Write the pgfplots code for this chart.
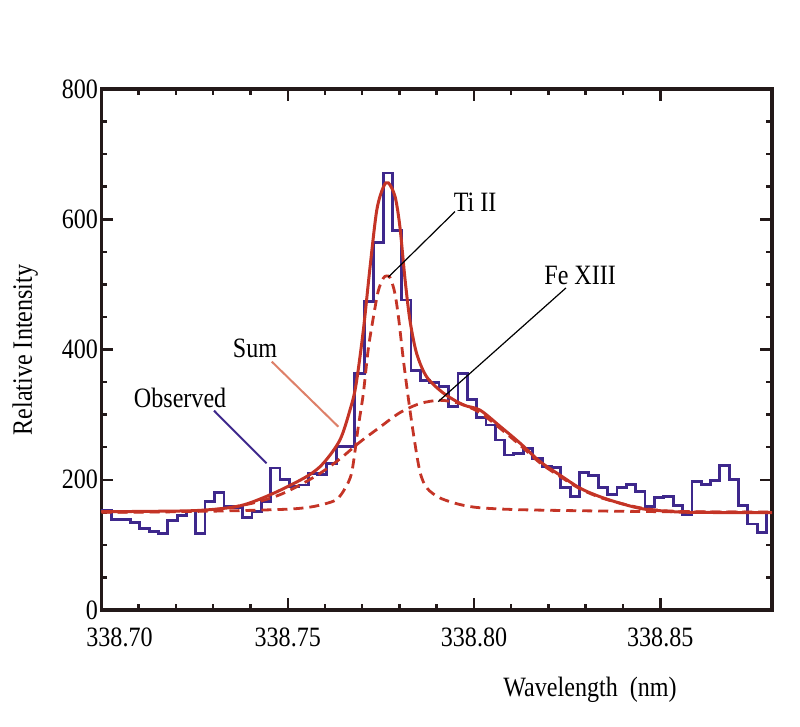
\documentclass[border=0pt]{standalone}
\usepackage{fontspec}
\setmainfont{Liberation Serif}[FakeStretch=0.86]
\usepackage{pgfplots}
\pgfplotsset{compat=1.18}
\definecolor{axcol}{RGB}{35,25,25}
\definecolor{obs}{RGB}{62,40,140}
\definecolor{fit}{RGB}{196,52,38}
\definecolor{sumline}{RGB}{222,128,105}
\newcommand{\bigf}{\fontsize{28}{30}\selectfont}
\begin{document}
\begin{tikzpicture}
\begin{axis}[
  at={(0pt,0pt)}, anchor=south west,
  scale only axis, width=670.5pt, height=521pt,
  xmin=338.70, xmax=338.88, ymin=0, ymax=800,
  xtick={338.70,338.75,338.80,338.85},
  xticklabels={{\hspace*{36pt}\textrm{338.70}},\textrm{338.75},\textrm{338.80},\textrm{338.85}},
  ytick={0,200,400,600,800},
  yticklabels={\textrm{0},\textrm{200},\textrm{400},\textrm{600},\textrm{800}},
  minor x tick num=4, minor y tick num=3,
  tick align=inside,
  major tick length=12pt, minor tick length=6pt,
  every tick/.style={line width=2.5pt, color=axcol},
  axis line style={line width=3.5pt, color=axcol},
  tick label style={font=\bigf},
  /pgf/number format/assume math mode=true,
  xticklabel style={inner ysep=0pt, yshift=-18pt},
  yticklabel style={inner ysep=0pt},
  ylabel={Relative Intensity},
  ylabel style={at={(axis description cs:-0.114,0.499)}, anchor=center, font=\bigf},
  xlabel={Wavelength\ \ (nm)},
  xlabel style={at={(axis description cs:0.7286,0)}, yshift=-80pt, anchor=center, font=\bigf},
  clip=false,
]
% Observed histogram
\addplot[const plot, color=obs, line width=2.8pt] coordinates {
(338.7000,152.5)
(338.7027,139) (338.7052,139) (338.7077,134) (338.7102,125) (338.7128,121)
(338.7153,117) (338.7178,138) (338.7203,145) (338.7228,152) (338.7253,118)
(338.7278,166) (338.7304,180) (338.7329,159) (338.7354,157) (338.7379,142)
(338.7404,151) (338.7429,167) (338.7454,218) (338.7479,201) (338.7505,190)
(338.7530,192) (338.7555,210) (338.7580,208) (338.7605,225) (338.7630,251)
(338.7655,251) (338.7680,363) (338.7705,474) (338.7731,564) (338.7756,671)
(338.7781,583) (338.7806,476) (338.7831,368) (338.7856,353) (338.7881,349)
(338.7906,343) (338.7932,312) (338.7957,363) (338.7982,323) (338.8007,296)
(338.8032,284) (338.8057,261) (338.8082,238) (338.8107,240) (338.8133,248)
(338.8158,233) (338.8183,220) (338.8208,219) (338.8233,188) (338.8258,174)
(338.8283,211) (338.8308,207) (338.8334,188) (338.8359,177) (338.8384,188)
(338.8409,193) (338.8434,182) (338.8459,159) (338.8484,173) (338.8509,174)
(338.8535,160) (338.8560,147) (338.8585,197) (338.8610,193) (338.8635,199)
(338.8660,222) (338.8685,201) (338.8710,160) (338.8735,132) (338.8761,119)
(338.8786,150) (338.8800,150)
};
% Ti II component
\addplot[smooth, tension=0.5, color=fit, line width=2.8pt, dash pattern=on 10pt off 6pt] coordinates {
(338.7000,150.5) (338.7264,151.5) (338.7399,153) (338.7506,155) (338.7560,158)
(338.7600,163) (338.7632,170) (338.7654,187) (338.7672,212) (338.7689,280)
(338.7703,333) (338.7716,400) (338.7730,450) (338.7743,490) (338.7756,509)
(338.7765,513) (338.7775,510) (338.7787,488) (338.7797,451) (338.7810,386)
(338.7824,324) (338.7837,272) (338.7855,212) (338.7874,187) (338.7909,172)
(338.7962,162) (338.8016,157) (338.8124,154) (338.8338,152) (338.8607,150.5)
(338.8800,150.5)
};
% Fe XIII component
\addplot[smooth, tension=0.5, color=fit, line width=2.8pt, dash pattern=on 10pt off 6pt] coordinates {
(338.7000,150) (338.7211,151) (338.7318,155) (338.7372,160) (338.7426,167)
(338.7479,177) (338.7533,192) (338.7587,210) (338.7640,232) (338.7694,258)
(338.7748,281) (338.7801,303) (338.7855,317) (338.7909,322) (338.7962,317)
(338.8016,303) (338.8070,279) (338.8124,253) (338.8177,226) (338.8231,205)
(338.8285,186) (338.8338,173) (338.8392,164) (338.8446,157) (338.8499,153)
(338.8580,151) (338.8800,150)
};
% Sum
\addplot[smooth, tension=0.5, color=fit, line width=3pt] coordinates {
(338.7000,151) (338.7130,151.5) (338.7264,153) (338.7372,160) (338.7461,179)
(338.7551,205) (338.7595,225) (338.7640,261) (338.7667,307) (338.7683,345)
(338.7703,430) (338.7721,527) (338.7739,614) (338.7757,650) (338.7770,656)
(338.7788,635) (338.7801,589) (338.7815,507) (338.7828,445) (338.7846,394)
(338.7873,358) (338.7918,333) (338.7971,315) (338.8016,307) (338.8070,282)
(338.8124,256) (338.8177,228) (338.8231,207) (338.8285,187) (338.8338,174)
(338.8392,164) (338.8446,156) (338.8499,152.5) (338.8580,150) (338.8800,149.5)
};
% annotations
\draw[black, line width=1.2pt] (axis cs:338.7949,611.8) -- (axis cs:338.7770,511.1);
\draw[black, line width=1.2pt] (axis cs:338.8247,494.6) -- (axis cs:338.7904,320);
\draw[sumline, line width=2pt] (axis cs:338.7457,381.4) -- (axis cs:338.7636,281.4);
\draw[obs, line width=2pt] (axis cs:338.7302,306.1) -- (axis cs:338.7443,225.3);
\node[font=\bigf] at (axis cs:338.8003,626.7) {Ti II};
\node[font=\bigf] at (axis cs:338.8285,513) {Fe XIII};
\node[font=\bigf] at (axis cs:338.7412,402.5) {Sum};
\node[font=\bigf] at (axis cs:338.7211,325.6) {Observed};
\end{axis}
\pgfresetboundingbox
\useasboundingbox (-101.5pt,-116pt) rectangle (698.5pt,610pt);
\end{tikzpicture}
\end{document}
